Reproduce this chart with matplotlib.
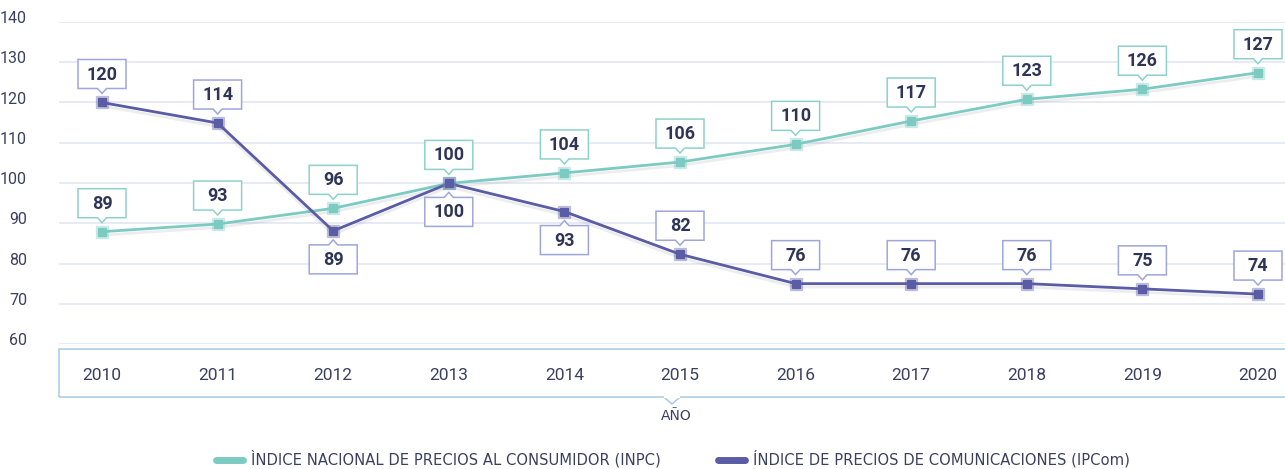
import matplotlib
matplotlib.use('Agg')
import matplotlib.pyplot as plt
import matplotlib.transforms as mtransforms
import matplotlib.patheffects as pe
from matplotlib.patches import Polygon, Rectangle
from matplotlib.lines import Line2D

plt.rcParams['font.family'] = ['Roboto', 'DejaVu Sans']

years = [2010, 2011, 2012, 2013, 2014, 2015, 2016, 2017, 2018, 2019, 2020]

# plotted positions (as drawn) and the labels shown in the callouts
inpc_vals = [87.9, 89.8, 93.7, 99.9, 102.5, 105.2, 109.6, 115.4, 120.8, 123.3, 127.4]
inpc_labels = [89, 93, 96, 100, 104, 106, 110, 117, 123, 126, 127]
ipcom_vals = [120.0, 114.9, 88.1, 99.9, 92.9, 82.3, 75.0, 75.0, 75.0, 73.7, 72.4]
ipcom_labels = [120, 114, 89, 100, 93, 82, 76, 76, 76, 75, 74]
ipcom_below = [2012, 2013, 2014]

yticks = [60, 70, 80, 90, 100, 110, 120, 130, 140]
inpc_name = 'ÌNDICE NACIONAL DE PRECIOS AL CONSUMIDOR (INPC)'
ipcom_name = 'ÍNDICE DE PRECIOS DE COMUNICACIONES (IPCom)'

teal = '#7ccbc2'
teal_box = '#8dd2ca'
purple = '#5a5ca6'
purple_box = '#9ea6dc'
text_col = '#2f3556'
tick_col = '#3b4060'
grid_col = '#e3e6f4'
frame_col = '#a9c8e8'

W, H = 1285, 469
fig = plt.figure(figsize=(W / 100, H / 100), dpi=100)
fig.patch.set_facecolor('white')

ax = fig.add_axes([59 / W, 1 - 344 / H, 1 - 59 / W, 322 / H])
ax.set_xlim(2010 - 43 / 115.6, 2010 + 1183 / 115.6)
ax.set_ylim(60, 140)
for s in ax.spines.values():
    s.set_visible(False)
ax.set_yticks(yticks)
ax.set_xticks([])
ax.grid(axis='y', color=grid_col, lw=1.2)
ax.set_axisbelow(True)
ax.tick_params(axis='y', length=0, pad=23, labelsize=11.5, labelcolor=tick_col)
for lab in ax.get_yticklabels():
    lab.set_transform(lab.get_transform() + mtransforms.ScaledTranslation(0, 5 / 100, fig.dpi_scale_trans))

shadow = [pe.SimpleLineShadow(offset=(0, -2.5), shadow_color='#555566', alpha=0.1, rho=1), pe.Normal()]


def draw_series(vals, color):
    ax.plot(years, vals, color=color, lw=2, zorder=3, path_effects=shadow, solid_joinstyle='round')
    ax.plot(years, vals, ls='none', marker='s', ms=9, mfc=color, mec=color, alpha=0.3, mew=1, zorder=4)
    ax.plot(years, vals, ls='none', marker='s', ms=5.5, mfc=color, mec=color, zorder=4)


def callout(x, y, txt, color, above=True):
    w, h, gap, ph, pw = 0.48, 0.29, 0.14, 0.05, 0.045
    trans = fig.dpi_scale_trans + mtransforms.ScaledTranslation(x, y, ax.transData)
    if above:
        b, t = gap, gap + h
        verts = [(-w / 2, b), (-pw, b), (0, b - ph), (pw, b), (w / 2, b), (w / 2, t), (-w / 2, t)]
    else:
        t, b = -gap, -gap - h
        verts = [(-w / 2, t), (-pw, t), (0, t + ph), (pw, t), (w / 2, t), (w / 2, b), (-w / 2, b)]
    ax.add_patch(Polygon(verts, closed=True, transform=trans, fc='white', ec=color,
                         lw=1.1, clip_on=False, zorder=6))
    ax.text(0, (b + t) / 2 - 0.005, str(txt), transform=trans, ha='center', va='center',
            fontsize=13, fontweight='bold', color=text_col, zorder=7, clip_on=False)


draw_series(inpc_vals, teal)
draw_series(ipcom_vals, purple)

for yr, v, lab in zip(years, inpc_vals, inpc_labels):
    callout(yr, v, lab, teal_box, above=True)
for yr, v, lab in zip(years, ipcom_vals, ipcom_labels):
    callout(yr, v, lab, purple_box, above=yr not in ipcom_below)

# year box below the plot
fig.patches.append(Rectangle((59 / W, 1 - 397 / H), 1.0, 48 / H, transform=fig.transFigure,
                             fill=False, ec=frame_col, lw=1.1))
notch = Polygon([(664 / W, 1 - 397 / H), (672 / W, 1 - 404 / H), (680 / W, 1 - 397 / H)],
                closed=False, transform=fig.transFigure, fc='white', ec=frame_col, lw=1.1)
fig.patches.append(notch)
fig.lines.append(Line2D([664.8 / W, 679.2 / W], [1 - 397 / H] * 2, transform=fig.transFigure,
                        color='white', lw=1.6))

year_trans = mtransforms.blended_transform_factory(ax.transData, fig.transFigure)
for yr in years:
    ax.text(yr, 1 - 375 / H, str(yr), transform=year_trans, ha='center', va='center',
            fontsize=12.5, color=tick_col, clip_on=False)

fig.text(676 / W, 1 - 416 / H, 'AÑO', ha='center', va='center', fontsize=10,
         family='DejaVu Sans', color=tick_col)

handles = [Line2D([], [], color=teal, lw=5, solid_capstyle='round'),
           Line2D([], [], color=purple, lw=5, solid_capstyle='round')]
fig.legend(handles, [inpc_name, ipcom_name], loc='center', bbox_to_anchor=(673 / W, 1 - 459 / H),
           ncol=2, frameon=False, prop={'family': 'DejaVu Sans', 'size': 10.6},
           handlelength=1.8, handletextpad=0.55, columnspacing=3.9, labelcolor=tick_col)

fig.savefig('out.png', dpi=100, facecolor='white')
